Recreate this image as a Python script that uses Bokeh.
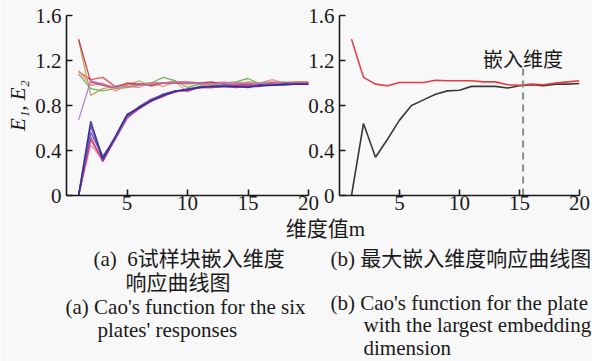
from bokeh.plotting import figure
from bokeh.models import GridBox, Column, Range1d, FixedTicker, Label
from bokeh.embed import file_html
from bokeh.resources import INLINE

W, H = 592, 361
BG = "#f8f8f8"
INK = "#1a1a1a"
SERIF = "Liberation Serif"
MIXED = "Liberation Serif, Noto Sans CJK SC"

# ---------------- data ----------------
dims = list(range(1, 21))

# (a) six plates, E1 curves
e1_plate1 = [0, 0.66, 0.33, 0.52, 0.72, 0.78, 0.84, 0.89, 0.93, 0.94, 0.96, 0.97, 0.97, 0.97, 0.96, 0.98, 0.98, 0.99, 0.99, 0.99]
e1_plate2 = [0, 0.56, 0.35, 0.50, 0.70, 0.79, 0.85, 0.90, 0.93, 0.94, 0.97, 0.97, 0.98, 0.97, 0.97, 0.98, 0.98, 0.98, 0.99, 0.99]
e1_plate3 = [0, 0.62, 0.31, 0.51, 0.71, 0.78, 0.85, 0.89, 0.92, 0.95, 0.96, 0.97, 0.97, 0.96, 0.97, 0.97, 0.98, 0.99, 0.99, 0.99]
e1_plate4 = [0, 0.52, 0.30, 0.50, 0.69, 0.77, 0.84, 0.88, 0.93, 0.93, 0.96, 0.96, 0.97, 0.97, 0.98, 0.98, 0.98, 0.99, 0.99, 1.00]
e1_plate5 = [0, 0.45, 0.32, 0.49, 0.68, 0.79, 0.86, 0.89, 0.92, 0.94, 0.96, 0.97, 0.98, 0.98, 0.97, 0.98, 0.99, 0.99, 0.99, 0.99]
e1_plate6 = [0, 0.50, 0.31, 0.50, 0.70, 0.78, 0.85, 0.90, 0.93, 0.94, 0.96, 0.96, 0.97, 0.98, 0.97, 0.98, 0.98, 0.99, 0.99, 0.99]

# (a) six plates, E2 curves
e2_plate1 = [1.10, 1.03, 1.05, 0.97, 0.99, 0.99, 1.00, 1.00, 1.01, 1.01, 1.00, 1.00, 0.99, 1.00, 1.00, 0.99, 1.00, 1.00, 1.01, 1.01]
e2_plate2 = [1.38, 0.89, 0.95, 0.97, 0.98, 1.02, 0.97, 1.00, 1.01, 0.99, 1.00, 0.99, 1.00, 0.99, 1.01, 1.00, 1.00, 1.00, 1.00, 1.01]
e2_plate3 = [1.08, 0.95, 0.93, 0.95, 0.96, 0.98, 1.00, 1.05, 1.02, 0.96, 0.99, 0.98, 1.00, 1.01, 1.04, 0.99, 1.00, 1.01, 1.00, 1.00]
e2_plate4 = [1.11, 0.98, 1.00, 0.93, 0.97, 0.96, 1.00, 0.97, 1.01, 0.92, 0.97, 1.00, 1.01, 0.99, 1.00, 1.00, 1.03, 1.00, 1.01, 1.01]
e2_plate5 = [1.39, 1.01, 0.98, 0.96, 1.00, 0.99, 0.98, 1.00, 1.00, 1.00, 1.00, 1.01, 0.99, 0.98, 0.99, 0.97, 1.00, 1.00, 1.00, 1.00]
e2_plate6 = [0.67, 1.02, 0.99, 0.96, 0.97, 0.98, 0.99, 1.00, 1.01, 1.00, 1.00, 0.99, 1.00, 1.00, 0.99, 1.00, 1.01, 1.00, 1.00, 1.00]

# (b) plate with the largest embedding dimension
e1_max = [0, 0.64, 0.34, 0.50, 0.67, 0.80, 0.85, 0.90, 0.93, 0.935, 0.97, 0.97, 0.97, 0.955, 0.975, 0.985, 0.975, 0.99, 0.99, 0.995]
e2_max = [1.39, 1.05, 0.99, 0.975, 1.005, 1.005, 1.005, 1.025, 1.02, 1.02, 1.02, 1.01, 1.01, 0.985, 0.98, 0.99, 0.985, 1.0, 1.01, 1.02]
embed_dim = 15.3

x_ticks = [5, 10, 15, 20]
y_ticks = [0, 0.4, 0.8, 1.2, 1.6]
y_tick_labels = ["0", "0.4", "0.8", "1.2", "1.6"]

e1_colors = ["#2b2b8c", "#4a5fcc", "#7a3db4", "#c2409c", "#e88cbc", "#d8405c"]
e2_colors = ["#e8403a", "#b9a04c", "#6cab57", "#f28a6c", "#c62a4a", "#b27ac9"]


def panel(left, right, opaque):
    p = figure(width=W, height=H, x_range=Range1d(0, 20), y_range=Range1d(0, 1.6),
               output_backend="svg", toolbar_location=None,
               min_border_left=left, min_border_right=right,
               min_border_top=15, min_border_bottom=H - 195)
    p.grid.visible = False
    p.outline_line_color = None
    if opaque:
        p.background_fill_color = BG
        p.border_fill_color = BG
    else:
        p.background_fill_alpha = 0
        p.border_fill_alpha = 0
    p.xaxis.ticker = FixedTicker(ticks=x_ticks)
    p.yaxis.ticker = FixedTicker(ticks=y_ticks)
    p.yaxis.major_label_overrides = dict(zip(y_ticks, y_tick_labels))
    for ax in (p.xaxis, p.yaxis):
        ax.major_tick_in = 6
        ax.major_tick_out = 0
        ax.minor_tick_in = 0
        ax.minor_tick_out = 0
        ax.axis_line_width = 1.6
        ax.axis_line_color = INK
        ax.major_tick_line_width = 1.6
        ax.major_tick_line_color = INK
        ax.major_label_text_font = SERIF
        ax.major_label_text_font_size = "21px"
        ax.major_label_text_color = INK
    p.xaxis.major_label_standoff = 0
    p.yaxis.major_label_standoff = 5
    return p


# ---------------- (a) ----------------
p1 = panel(66, W - 308, True)
for ys, c in zip([e2_plate1, e2_plate2, e2_plate3, e2_plate4, e2_plate5, e2_plate6], e2_colors):
    p1.line(dims, ys, line_color=c, line_width=1.3, line_alpha=0.9)
for ys, c in zip([e1_plate5, e1_plate4, e1_plate6, e1_plate2, e1_plate3, e1_plate1],
                 [e1_colors[4], e1_colors[3], e1_colors[5], e1_colors[1], e1_colors[2], e1_colors[0]]):
    p1.line(dims, ys, line_color=c, line_width=1.5, line_alpha=0.9)
p1.yaxis.axis_label = "E₁, E₂"
p1.yaxis.axis_label_text_font = SERIF
p1.yaxis.axis_label_text_font_style = "italic"
p1.yaxis.axis_label_text_font_size = "21px"
p1.yaxis.axis_label_text_color = INK
p1.yaxis.axis_label_standoff = 2

# ---------------- (b) ----------------
p2 = panel(339, 13, False)
p2.line(dims, e1_max, line_color="#3a3a3a", line_width=1.6)
p2.line(dims, e2_max, line_color="#e83a40", line_width=1.6)
p2.segment(x0=[embed_dim], y0=[0], x1=[embed_dim], y1=[1.13],
           line_color="#8a8a8a", line_width=2, line_dash="7 5")
p2.add_layout(Label(x=embed_dim, y=1.22, text="嵌入维度", text_align="center",
                    text_baseline="middle", text_font="Noto Sans CJK SC",
                    text_font_size="20px", text_color=INK))

# ---------------- captions ----------------
p3 = figure(width=W, height=H, x_range=Range1d(0, W), y_range=Range1d(H, 0),
            output_backend="svg", toolbar_location=None,
            x_axis_location=None, y_axis_location=None,
            min_border=0)
p3.grid.visible = False
p3.outline_line_color = None
p3.background_fill_alpha = 0
p3.border_fill_alpha = 0

captions = [
    ("维度值m", 325, 228, "center"),
    ("(a)\u00a0 6试样块嵌入维度", 93, 258, "left"),
    ("响应曲线图", 125, 282, "left"),
    ("(a) Cao's function for the six", 65, 306, "left"),
    ("plates' responses", 97, 329, "left"),
    ("(b) 最大嵌入维度响应曲线图", 330, 258, "left"),
    ("(b) Cao's function for the plate", 330, 302, "left"),
    ("with the largest embedding", 363, 324, "left"),
    ("dimension", 363, 347, "left"),
]
for t, x, y, al in captions:
    p3.add_layout(Label(x=x, y=y, text=t, text_align=al, text_baseline="middle",
                        text_font=MIXED, text_font_size="21px", text_color=INK))

grid = GridBox(children=[(Column(children=[p1]), 0, 0),
                         (Column(children=[p2]), 0, 0),
                         (Column(children=[p3]), 0, 0)])

open("out.html", "w").write(file_html(grid, INLINE))
